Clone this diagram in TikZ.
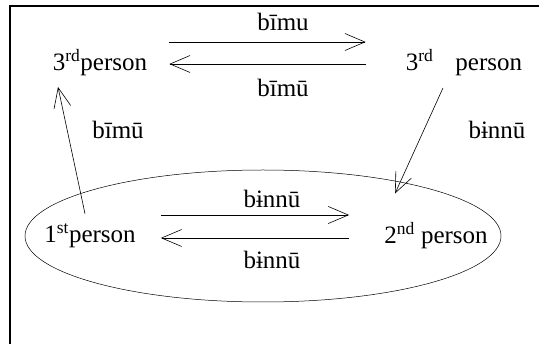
\documentclass[tikz,border=0pt]{standalone}
\usepackage{fontspec}
\setmainfont{LiberationSerif}[Extension=.ttf,UprightFont=*-Regular]
\usetikzlibrary{arrows.meta}

\begin{document}
\begin{tikzpicture}[x=1pt,y=-1pt,
  every node/.style={font=\fontsize{25}{28}\selectfont,inner sep=1pt},
  rel/.style={line width=0.6pt,-{Straight Barb[length=20pt,width=17pt,line width=0.6pt]}}]

\useasboundingbox (0,0) rectangle (543,344);

\draw[line width=1.2pt] (539,6)--(10,6)--(10,344);

\node (thirdL) at (100,63) {3\textsuperscript{rd}person};
\node (thirdR) at (464,63) {3\textsuperscript{rd}\hspace{22pt}person};
\node (first) at (90,236) {1\textsuperscript{st}person};
\node (second) at (436,236) {2\textsuperscript{nd} person};

\draw[line width=0.5pt] (263,236) ellipse [x radius=238pt, y radius=66pt];

\node (topA) at (283,22) {bīmu};
\node (topB) at (283,88) {bīmū};
\node (sideL) at (118,130) {bīmū};
\node (sideR) at (497,130) {bɨnnū};
\node (botA) at (272,199) {bɨnnū};
\node (botB) at (272,260) {bɨnnū};

\draw[rel,shorten <=21pt,shorten >=39pt] ([yshift=21pt]thirdL.east)--([yshift=21pt]thirdR.west);
\draw[rel,shorten <=39pt,shorten >=21pt] ([yshift=-1pt]thirdR.west)--([yshift=-1pt]thirdL.east);

\draw[rel,shorten <=24pt,shorten >=34pt] ([yshift=21pt]first.east)--([yshift=21pt]second.west);
\draw[rel,shorten <=34pt,shorten >=24pt] ([yshift=-2pt]second.west)--([yshift=-2pt]first.east);

\draw[rel] ([xshift=-5pt,yshift=9pt]first.north)--([xshift=-42pt,yshift=-9.5pt]thirdL.south);
\draw[rel] ([xshift=-21pt,yshift=-10.5pt]thirdR.south)--([xshift=-41pt,yshift=28pt]second.north);

\end{tikzpicture}
\end{document}
